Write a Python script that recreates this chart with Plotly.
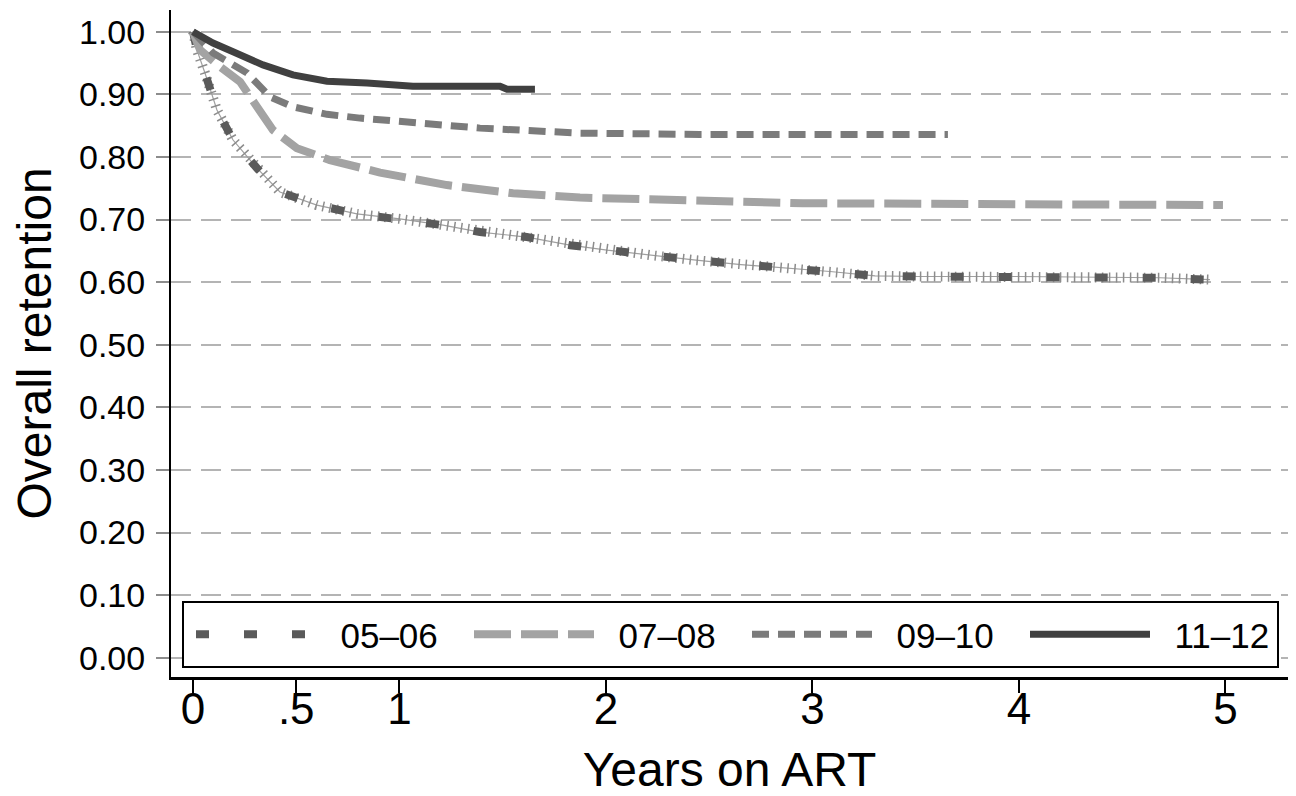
import plotly.graph_objects as go

# ---- data ----
years_0506 = [0, 0.019, 0.058, 0.116, 0.194, 0.310, 0.421, 0.600, 0.794, 1.002, 1.211, 1.390, 1.617,
              1.826, 2.005, 2.218, 2.436, 2.654, 2.867, 3.085, 3.303, 3.516, 3.990, 4.683, 4.925]
ret_0506 = [1.0, 0.971, 0.934, 0.875, 0.827, 0.782, 0.744, 0.723, 0.709, 0.701, 0.691, 0.680, 0.672,
            0.659, 0.651, 0.643, 0.635, 0.628, 0.623, 0.617, 0.610, 0.609, 0.609, 0.607, 0.604]

years_0708 = [0, 0.034, 0.131, 0.228, 0.310, 0.387, 0.503, 0.663, 0.906, 1.230, 1.550, 1.874, 2.954, 4.034, 4.988]
ret_0708 = [1.0, 0.971, 0.944, 0.920, 0.880, 0.843, 0.814, 0.795, 0.775, 0.755, 0.742, 0.735, 0.726, 0.725, 0.723]

years_0910 = [0, 0.097, 0.262, 0.373, 0.484, 0.649, 0.809, 1.065, 1.390, 1.874, 2.455, 3.656]
ret_0910 = [1.0, 0.966, 0.934, 0.896, 0.880, 0.868, 0.862, 0.854, 0.846, 0.838, 0.836, 0.836]

years_1112 = [0, 0.097, 0.194, 0.339, 0.484, 0.649, 0.843, 1.065, 1.487, 1.521, 1.656]
ret_1112 = [1.0, 0.982, 0.968, 0.947, 0.931, 0.921, 0.918, 0.913, 0.913, 0.908, 0.908]

series_names = ["05–06", "07–08", "09–10", "11–12"]

x_tickvals = [0, 0.5, 1, 2, 3, 4, 5]
x_ticktext = ["0", ".5", "1", "2", "3", "4", "5"]
y_tickvals = [0.0, 0.1, 0.2, 0.3, 0.4, 0.5, 0.6, 0.7, 0.8, 0.9, 1.0]

FONT = "Liberation Sans, Arial, sans-serif"
PAD = "\u00a0\u00a0"  # gap between legend key and its label

fig = go.Figure()

# 05-06: thin connecting line, censor ticks, square dashes
fig.add_trace(go.Scatter(x=years_0506, y=ret_0506, mode="lines", showlegend=False,
                         line=dict(color="#a0a0a0", width=1.2), hoverinfo="skip"))
fig.add_trace(go.Scatter(x=years_0506, y=ret_0506, mode="lines", showlegend=False,
                         line=dict(color="#8c8c8c", width=10, dash="1.5px,5.5px"), hoverinfo="skip"))
fig.add_trace(go.Scatter(x=years_0506, y=ret_0506, mode="lines", name=PAD + series_names[0],
                         line=dict(color="#5a5a5a", width=8, dash="13px,35px"), legendwidth=143))
fig.add_trace(go.Scatter(x=years_0708, y=ret_0708, mode="lines", name=PAD + series_names[1],
                         line=dict(color="#a3a3a3", width=8, dash="37px,10px"), legendwidth=143))
fig.add_trace(go.Scatter(x=years_0910, y=ret_0910, mode="lines", name=PAD + series_names[2],
                         line=dict(color="#7b7b7b", width=7, dash="17px,9px"), legendwidth=143))
fig.add_trace(go.Scatter(x=years_1112, y=ret_1112, mode="lines", name=PAD + series_names[3],
                         line=dict(color="#404040", width=7), legendwidth=135))

# page geometry (px); the page body adds an 8px offset around the figure
OFF = 8
FIG_W, FIG_H = 1296 - OFF, 796 - OFF
L, R, T, B = 171 - OFF, 1288 - OFF, 10 - OFF, 677 - OFF
W, H = R - L, B - T

def px_x(p):
    return (p - OFF - L) / W

def px_y(p):
    return (B - (p - OFF)) / H

fig.add_shape(type="rect", xref="paper", yref="paper",
              x0=px_x(183), x1=px_x(1278), y0=px_y(667), y1=px_y(602),
              line=dict(color="black", width=2), fillcolor="white", layer="above")

fig.update_layout(
    width=FIG_W, height=FIG_H,
    margin=dict(l=L, r=FIG_W - R, t=T, b=FIG_H - B, autoexpand=False),
    paper_bgcolor="white", plot_bgcolor="white",
    font=dict(family=FONT, color="black"),
    showlegend=True,
    legend=dict(orientation="h", x=px_x(191), xanchor="left", y=px_y(634.5), yanchor="middle",
                bgcolor="rgba(0,0,0,0)", borderwidth=0, itemwidth=120,
                font=dict(family=FONT, size=35, color="black"), itemclick=False),
    xaxis=dict(range=[-0.1065, 5.303], tickvals=x_tickvals, ticktext=x_ticktext, automargin=False,
               showgrid=False, zeroline=False, showline=True, linecolor="black", linewidth=3,
               ticks="outside", ticklen=13, tickwidth=2, tickcolor="black",
               tickfont=dict(family=FONT, size=44, color="black"), ticklabelstandoff=-22,
               title=dict(text="Years on ART", font=dict(family=FONT, size=48, color="black"),
                          standoff=30)),
    yaxis=dict(range=[-0.0308, 1.0347], tickvals=y_tickvals, tickformat=".2f", automargin=False,
               showgrid=True, gridcolor="#b4b4b4", gridwidth=2, griddash="20px,10px",
               zeroline=False, showline=True, linecolor="black", linewidth=2,
               ticks="outside", ticklen=13, tickwidth=2, tickcolor="#8c8c8c",
               tickfont=dict(family=FONT, size=34, color="black"), ticklabelstandoff=4,
               title=dict(text="Overall retention", font=dict(family=FONT, size=48, color="black"),
                          standoff=23)),
)

fig.write_html("out.html")
